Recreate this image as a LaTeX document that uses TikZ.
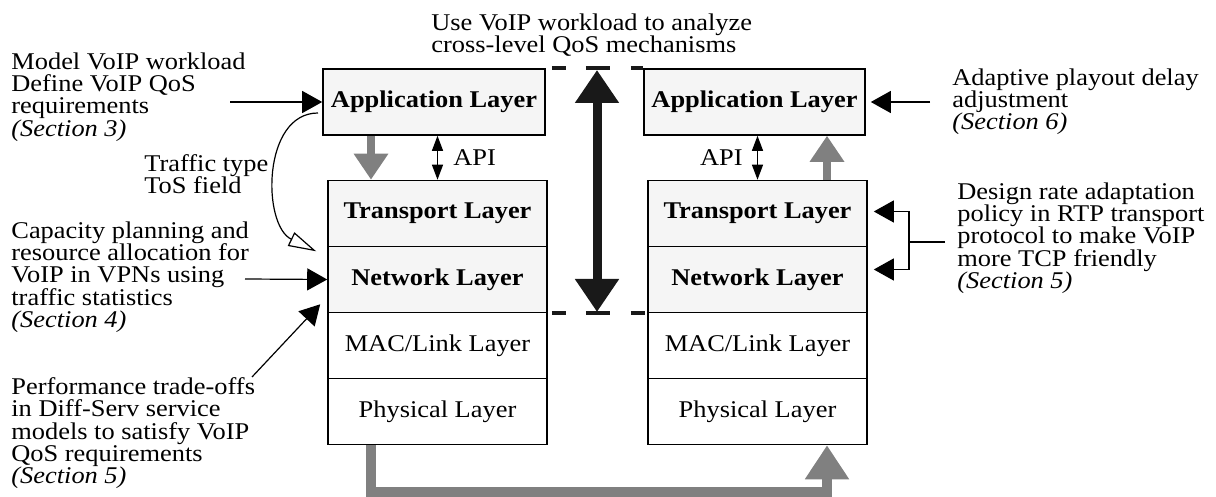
\documentclass[tikz,border=0pt]{standalone}
\usepackage{fontspec}
\setmainfont{Liberation Serif}[FakeStretch=1.1]
\usetikzlibrary{arrows.meta}

\tikzset{
  layer/.style={draw,line width=0.8pt,rectangle,minimum width=109.5pt,minimum height=33pt,inner sep=0pt,font=\fontsize{12}{14}\selectfont},
  toplayer/.style={layer,fill=black!4,font=\fontsize{12}{14}\selectfont\bfseries},
  note/.style={align=left,inner sep=0pt,font=\fontsize{12}{11.2}\selectfont},
  pointer/.style={line width=0.6pt,-{Triangle[length=10pt,width=11pt]}},
  apiarrow/.style={line width=0.6pt,{Triangle[length=7.5pt,width=5.5pt]}-{Triangle[length=7.5pt,width=5.5pt]}},
  grayarrow/.style={draw=black!50,line width=4pt,-{Triangle[length=13pt,width=16.5pt]}},
  bigarrow/.style={draw=black!90,line width=4.5pt,{Triangle[length=16.5pt,width=21pt]}-{Triangle[length=16.5pt,width=21pt]}},
  dashline/.style={draw=black!90,line width=2.2pt,dash pattern=on 7pt off 10pt on 12pt off 10.5pt on 7pt}
}

\begin{document}
\begin{tikzpicture}[x=0.5pt,y=-0.5pt]
\useasboundingbox (0,0) rectangle (1216,497);
% left stack
\node [toplayer,minimum width=111pt] (lapp) at(434,102){Application Layer};
\node [toplayer] (ltra) at(437.5,213.5){Transport Layer};
\node [toplayer] (lnet) at(437.5,279.5){Network Layer};
\node [layer] (lmac) at(437.5,345.5){MAC/Link Layer};
\node [layer] (lphy) at(437.5,411.5){Physical Layer};
% right stack
\node [toplayer,minimum width=110.5pt] (rapp) at(754.5,102){Application Layer};
\node [toplayer] (rtra) at(757.5,213.5){Transport Layer};
\node [toplayer] (rnet) at(757.5,279.5){Network Layer};
\node [layer] (rmac) at(757.5,345.5){MAC/Link Layer};
\node [layer] (rphy) at(757.5,411.5){Physical Layer};
% texts
\node [note,anchor=north west] (t1) at(11,52){Model VoIP workload\\Define VoIP QoS\\requirements\\\textit{(Section 3)}};
\node [note,anchor=north west] (t2) at(144,154){Traffic type\\ToS field};
\node [note,anchor=north west] (t3) at(11,221){Capacity planning and\\resource allocation for\\VoIP in VPNs using\\traffic statistics\\\textit{(Section 4)}};
\node [note,anchor=north west] (t4) at(11,377){Performance trade-offs\\in Diff-Serv service\\models to satisfy VoIP\\QoS requirements\\\textit{(Section 5)}};
\node [note,anchor=north west] (t5) at(431,13){Use VoIP workload to analyze\\cross-level QoS mechanisms};
\node [note,anchor=north west] (t6) at(952,68){Adaptive playout delay\\adjustment\\\textit{(Section 6)}};
\node [note,anchor=north west] (t7) at(957,182){Design rate adaptation\\policy in RTP transport\\protocol to make VoIP\\more TCP friendly\\\textit{(Section 5)}};
\node [note,anchor=west] (lapi) at(453,158){API};
\node [note,anchor=east] (rapi) at(743,158){API};
\coordinate (gl) at(371,0);
\coordinate (gr) at(827,0);
\coordinate (s1) at(230,102);
\coordinate (s3) at(245,279);
\coordinate (s4) at(252,377);
\coordinate (s6) at(930,102);
\coordinate (s7) at(945,242);
\coordinate (k7) at(909,242);
\coordinate (c0) at(318,113);
\coordinate (mtop) at(597,70);
\coordinate (mbot) at(597,312);
% arrows between layers
\draw[apiarrow] (lapp.south -| ltra.north) -- (ltra.north);
\draw[apiarrow] (rapp.south -| rtra.north) -- (rtra.north);
\draw[grayarrow] (lapp.south -| gl) -- (ltra.north -| gl);
\draw[grayarrow] (rtra.north -| gr) -- (rapp.south -| gr);
\draw[grayarrow,line width=5pt,line join=miter,-{Triangle[length=17pt,width=21pt]}] (lphy.south -| gl) -- ++(0,47) -| (rphy.south -| gr);
% cross-level arrow
\draw[dashline] ([xshift=3pt]lapp.north east) -- (rapp.north west);
\draw[dashline] ([xshift=2pt]lnet.south east) -- (rnet.south west);
\draw[bigarrow] (mtop) -- (mbot);
% pointers from texts
\draw[pointer] (s1) -- (lapp.west);
\draw[pointer] (s3) -- (lnet.west);
\draw[pointer] (s4) -- ([xshift=-3.5pt,yshift=4.5pt]lnet.south west);
\draw[line width=0.6pt,-{Triangle[length=14pt,width=7.5pt,fill=white]}] (c0) .. controls (262,113) and (262,225) .. ([xshift=-5.5pt,yshift=-2pt]ltra.south west);
\draw[pointer] (s6) -- ([xshift=2.5pt]rapp.east);
\draw[line width=0.6pt] (s7) -- (k7);
\draw[pointer] (k7) |- ([xshift=3pt,yshift=1pt]rtra.east);
\draw[pointer] (k7) |- ([xshift=3pt,yshift=5pt]rnet.east);
\end{tikzpicture}
\end{document}
